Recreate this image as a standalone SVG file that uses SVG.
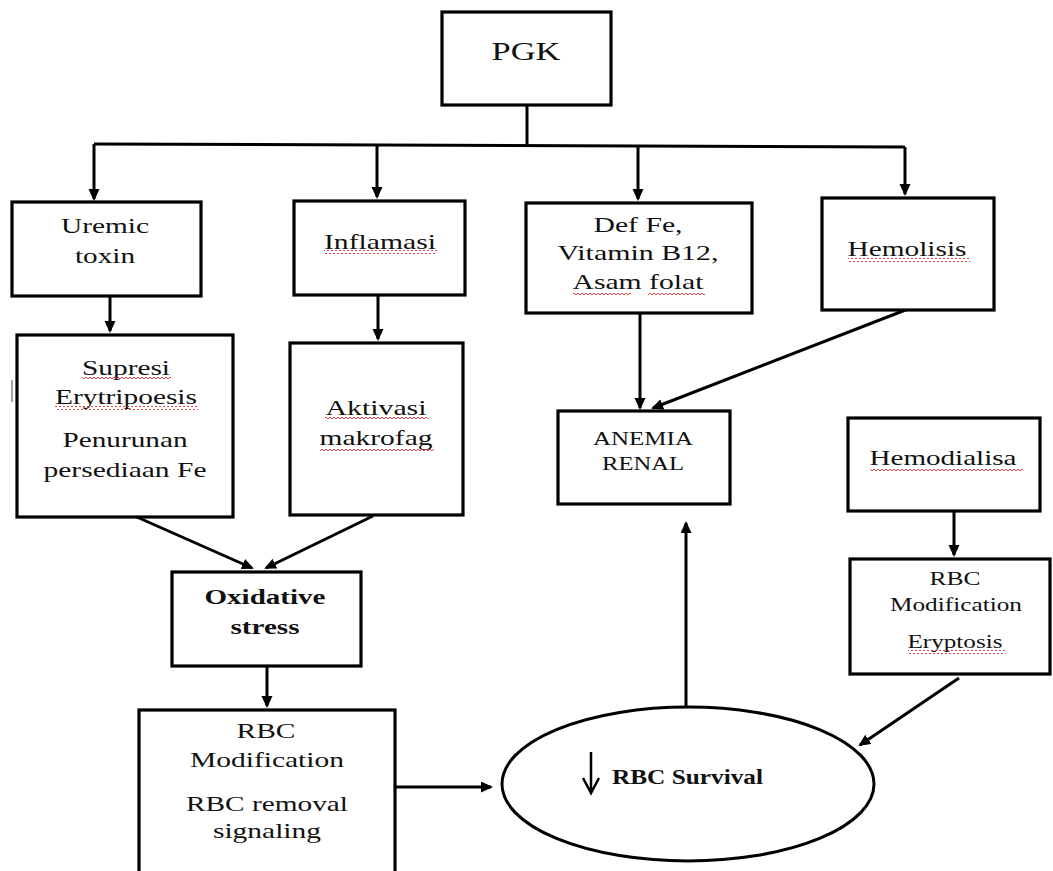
<svg xmlns="http://www.w3.org/2000/svg" width="1053" height="871" viewBox="0 0 1053 871">
<style>
.box{fill:#fff;stroke:#000;stroke-width:3.2}
.t{font-family:"Liberation Serif","Times New Roman",serif;font-size:22px;fill:#111;text-anchor:middle}
.s{font-size:18px}
.b{font-weight:bold}
.c{fill:none;stroke:#000;stroke-width:3}
.sq{fill:url(#squig)}
</style>
<defs>
<marker id="ah" markerUnits="userSpaceOnUse" markerWidth="13" markerHeight="12" refX="10" refY="5.5" orient="auto">
<path d="M0,0 L12,5.5 L0,11 z" fill="#000"/>
</marker>
<pattern id="squig" patternUnits="userSpaceOnUse" width="4" height="4">
<path d="M0,3 L2,1 L4,3" fill="none" stroke="#e03030" stroke-width="0.9"/>
</pattern>
</defs>
<rect width="1053" height="871" fill="#fff"/>

<g id="connectors">
<path class="c" d="M527,104 L527,145"/>
<path class="c" d="M94,144 L905,147"/>
<path class="c" d="M94,144 L94,199" marker-end="url(#ah)"/>
<path class="c" d="M377,146 L377,197" marker-end="url(#ah)"/>
<path class="c" d="M638,146 L638,199" marker-end="url(#ah)"/>
<path class="c" d="M905,147 L905,194" marker-end="url(#ah)"/>
<path class="c" d="M110,296 L110,331" marker-end="url(#ah)"/>
<path class="c" d="M378,295 L378,339" marker-end="url(#ah)"/>
<path class="c" d="M640,313 L640,408" marker-end="url(#ah)"/>
<path class="c" d="M908,309 L653,408" marker-end="url(#ah)"/>
<path class="c" d="M130,514 L252,568" marker-end="url(#ah)"/>
<path class="c" d="M373,516 L266,568" marker-end="url(#ah)"/>
<path class="c" d="M267,666 L267,706" marker-end="url(#ah)"/>
<path class="c" d="M395,787 L491,787" marker-end="url(#ah)"/>
<path class="c" d="M686,707 L686,523" marker-end="url(#ah)"/>
<path class="c" d="M954,511 L954,555" marker-end="url(#ah)"/>
<path class="c" d="M959,678 L860,745" marker-end="url(#ah)"/>
</g>

<g id="pgk">
<rect class="box" x="442" y="12" width="169" height="93"/>
<text class="t" x="526" y="60" style="font-size:25px" transform="matrix(1.3,0,0,1,-157.8,0)" textLength="53" lengthAdjust="spacingAndGlyphs">PGK</text>
</g>

<g id="uremic">
<rect class="box" x="12" y="202" width="189" height="94"/>
<text class="t" x="105" y="233" transform="matrix(1.3,0,0,1,-31.5,0)" textLength="67.7" lengthAdjust="spacingAndGlyphs">Uremic</text>
<text class="t" x="105" y="263" transform="matrix(1.3,0,0,1,-31.5,0)" textLength="46.2" lengthAdjust="spacingAndGlyphs">toxin</text>
</g>

<g id="inflamasi">
<rect class="box" x="294" y="201" width="171" height="94"/>
<text class="t" x="380" y="249" transform="matrix(1.3,0,0,1,-114,0)" textLength="86.2" lengthAdjust="spacingAndGlyphs">Inflamasi</text>
<rect class="sq" x="324" y="250" width="113" height="4"/>
</g>

<g id="deffe">
<rect class="box" x="526" y="203" width="226" height="110"/>
<text class="t" x="638" y="232" transform="matrix(1.3,0,0,1,-191.4,0)" textLength="68.5" lengthAdjust="spacingAndGlyphs">Def Fe,</text>
<text class="t" x="638" y="260" transform="matrix(1.3,0,0,1,-191.4,0)" textLength="123.8" lengthAdjust="spacingAndGlyphs">Vitamin B12,</text>
<text class="t" x="638" y="289" transform="matrix(1.3,0,0,1,-191.4,0)" textLength="100.8" lengthAdjust="spacingAndGlyphs">Asam folat</text>
<rect class="sq" x="573" y="291" width="58" height="4"/>
<rect class="sq" x="648" y="291" width="57" height="4"/>
</g>

<g id="hemolisis">
<rect class="box" x="822" y="198" width="172" height="112"/>
<text class="t" x="907" y="256" transform="matrix(1.3,0,0,1,-272.1,0)" textLength="91.5" lengthAdjust="spacingAndGlyphs">Hemolisis</text>
<rect class="sq" x="848" y="258" width="122" height="4"/>
</g>

<g id="supresi">
<rect class="box" x="17" y="335" width="216" height="182"/>
<text class="t" x="126" y="375" transform="matrix(1.3,0,0,1,-37.8,0)" textLength="67.7" lengthAdjust="spacingAndGlyphs">Supresi</text>
<rect class="sq" x="82" y="377" width="89" height="4"/>
<text class="t" x="126" y="404" transform="matrix(1.3,0,0,1,-37.8,0)" textLength="109.2" lengthAdjust="spacingAndGlyphs">Erytripoesis</text>
<rect class="sq" x="55" y="406" width="143" height="4"/>
<text class="t" x="125" y="447" transform="matrix(1.3,0,0,1,-37.5,0)" textLength="96.2" lengthAdjust="spacingAndGlyphs">Penurunan</text>
<text class="t" x="125" y="477" transform="matrix(1.3,0,0,1,-37.5,0)" textLength="125.4" lengthAdjust="spacingAndGlyphs">persediaan Fe</text>
</g>

<line x1="12" y1="380" x2="12" y2="402" stroke="#888" stroke-width="1.5"/>

<g id="aktivasi">
<rect class="box" x="290" y="343" width="173" height="172"/>
<text class="t" x="376" y="415" transform="matrix(1.3,0,0,1,-112.8,0)" textLength="77.7" lengthAdjust="spacingAndGlyphs">Aktivasi</text>
<rect class="sq" x="325" y="417" width="103" height="4"/>
<text class="t" x="376" y="445" transform="matrix(1.3,0,0,1,-112.8,0)" textLength="86.9" lengthAdjust="spacingAndGlyphs">makrofag</text>
<rect class="sq" x="320" y="447" width="114" height="4"/>
</g>

<g id="anemia">
<rect class="box" x="558" y="411" width="172" height="93"/>
<text class="t s" x="643" y="445" transform="matrix(1.3,0,0,1,-192.9,0)" textLength="76.9" lengthAdjust="spacingAndGlyphs">ANEMIA</text>
<text class="t s" x="643" y="470" transform="matrix(1.3,0,0,1,-192.9,0)" textLength="63.1" lengthAdjust="spacingAndGlyphs">RENAL</text>
</g>

<g id="hemodialisa">
<rect class="box" x="848" y="418" width="192" height="93"/>
<text class="t" x="943" y="465" transform="matrix(1.3,0,0,1,-282.9,0)" textLength="113.1" lengthAdjust="spacingAndGlyphs">Hemodialisa</text>
<rect class="sq" x="870" y="467" width="153" height="4"/>
</g>

<g id="oxidative">
<rect class="box" x="172" y="572" width="189" height="94"/>
<text class="t b" x="265" y="604" transform="matrix(1.3,0,0,1,-79.5,0)" textLength="93.1" lengthAdjust="spacingAndGlyphs">Oxidative</text>
<text class="t b" x="265" y="634" transform="matrix(1.3,0,0,1,-79.5,0)" textLength="53.1" lengthAdjust="spacingAndGlyphs">stress</text>
</g>

<g id="rbcmod1">
<rect class="box" x="139" y="710" width="256" height="200"/>
<text class="t" x="266" y="738" transform="matrix(1.3,0,0,1,-79.8,0)" textLength="45.4" lengthAdjust="spacingAndGlyphs">RBC</text>
<text class="t" x="267" y="767" transform="matrix(1.3,0,0,1,-80.1,0)" textLength="118.5" lengthAdjust="spacingAndGlyphs">Modification</text>
<text class="t" x="267" y="811" transform="matrix(1.3,0,0,1,-80.1,0)" textLength="124.6" lengthAdjust="spacingAndGlyphs">RBC removal</text>
<text class="t" x="267" y="838" transform="matrix(1.3,0,0,1,-80.1,0)" textLength="83.1" lengthAdjust="spacingAndGlyphs">signaling</text>
</g>

<g id="rbcmod2">
<rect class="box" x="850" y="559" width="200" height="115"/>
<text class="t s" x="955" y="585" transform="matrix(1.3,0,0,1,-286.5,0)" textLength="39.2" lengthAdjust="spacingAndGlyphs">RBC</text>
<text class="t s" x="956" y="611" transform="matrix(1.3,0,0,1,-286.8,0)" textLength="101.5" lengthAdjust="spacingAndGlyphs">Modification</text>
<text class="t s" x="955" y="648" transform="matrix(1.3,0,0,1,-286.5,0)" textLength="73.1" lengthAdjust="spacingAndGlyphs">Eryptosis</text>
<rect class="sq" x="908" y="650" width="98" height="4"/>
</g>

<g id="rbcsurvival">
<ellipse cx="688" cy="784" rx="186" ry="77" fill="#fff" stroke="#000" stroke-width="3"/>
<path d="M591,752 L591,793 M583,778 L591,793 L599,778" fill="none" stroke="#000" stroke-width="2.5"/>
<text class="t b" x="612" y="784" style="text-anchor:start;font-size:20px" transform="matrix(1.3,0,0,1,-183.6,0)" textLength="116.2" lengthAdjust="spacingAndGlyphs">RBC Survival</text>
</g>
</svg>
